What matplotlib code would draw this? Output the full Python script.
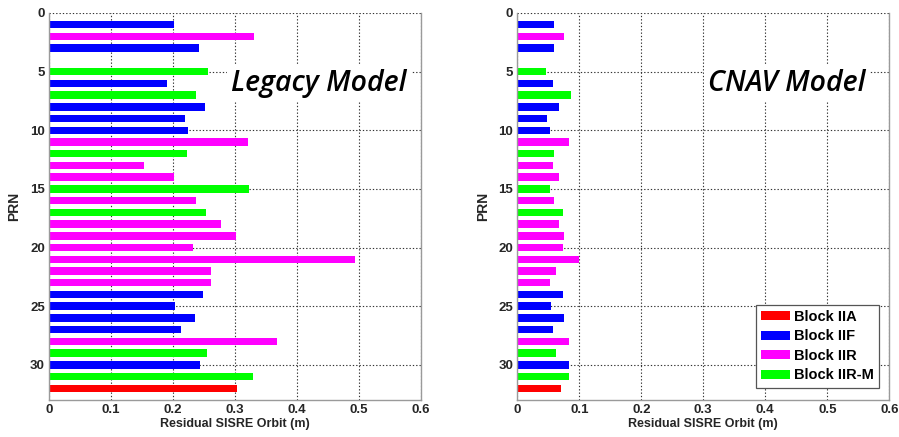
#!/usr/bin/env python3
"""Residual SISRE orbit per PRN: legacy vs CNAV model."""

import matplotlib
matplotlib.use("Agg")
import matplotlib.pyplot as plt
from matplotlib.patches import Patch

# PRN 4 is absent
PRNS = [1, 2, 3, 5, 6, 7, 8, 9, 10, 11, 12, 13, 14, 15, 16, 17,
        18, 19, 20, 21, 22, 23, 24, 25, 26, 27, 28, 29, 30, 31, 32]

BLOCKS = ["IIF", "IIR", "IIF", "IIR-M", "IIF", "IIR-M", "IIF", "IIF", "IIF",
          "IIR", "IIR-M", "IIR", "IIR", "IIR-M", "IIR", "IIR-M",
          "IIR", "IIR", "IIR", "IIR", "IIR", "IIR", "IIF", "IIF", "IIF", "IIF",
          "IIR", "IIR-M", "IIF", "IIR-M", "IIA"]

LEGACY = [0.202, 0.331, 0.242, 0.256, 0.191, 0.237, 0.252, 0.219, 0.225,
          0.321, 0.223, 0.154, 0.202, 0.323, 0.237, 0.254,
          0.277, 0.301, 0.232, 0.493, 0.262, 0.262, 0.249, 0.203, 0.235, 0.213,
          0.368, 0.255, 0.243, 0.329, 0.303]

CNAV = [0.060, 0.075, 0.059, 0.047, 0.057, 0.086, 0.067, 0.048, 0.053,
        0.084, 0.059, 0.058, 0.068, 0.053, 0.060, 0.074,
        0.067, 0.075, 0.074, 0.100, 0.062, 0.053, 0.073, 0.054, 0.075, 0.058,
        0.084, 0.062, 0.084, 0.083, 0.070]

BLOCK_NAMES = ["IIA", "IIF", "IIR", "IIR-M"]
BLOCK_COLORS = {"IIA": "#ff0000", "IIF": "#0000ff", "IIR": "#ff00ff", "IIR-M": "#00ff00"}

TEXT_COLOR = "#262626"
FRAME_COLOR = "#9a9a9a"


def draw_panel(ax, values, title):
    colors = [BLOCK_COLORS[b] for b in BLOCKS]
    ax.barh(PRNS, values, height=0.64, color=colors, edgecolor="none", zorder=2)
    ax.set_xlim(0, 0.6)
    ax.set_ylim(33, 0)
    ax.set_xticks([0, 0.1, 0.2, 0.3, 0.4, 0.5, 0.6])
    ax.set_xticklabels(["0", "0.1", "0.2", "0.3", "0.4", "0.5", "0.6"])
    ax.set_yticks([0, 5, 10, 15, 20, 25, 30])
    ax.tick_params(length=0, pad=3, labelsize=9.5, labelcolor=TEXT_COLOR)
    for lbl in ax.get_xticklabels() + ax.get_yticklabels():
        lbl.set_fontweight("bold")
    ax.grid(True, linestyle=(0, (1.2, 1.8)), color="#333333", linewidth=0.8, zorder=1)
    ax.set_axisbelow(True)
    for side in ("left", "right", "bottom"):
        ax.spines[side].set_color(FRAME_COLOR)
        ax.spines[side].set_linewidth(1.0)
    ax.spines["top"].set_visible(False)
    ax.set_xlabel("Residual SISRE Orbit (m)", fontsize=9, fontweight="bold",
                  color=TEXT_COLOR, labelpad=1)
    ax.set_ylabel("PRN", fontsize=10, fontweight="bold", color=TEXT_COLOR, labelpad=6)
    ax.text(0.435, 6.0, title, fontsize=20.5, style="italic", fontweight="semibold",
            family="Open Sans", color="black", ha="center", va="center", zorder=3,
            bbox=dict(facecolor="white", edgecolor="none", pad=3))


def main() -> int:
    plt.rcParams["font.family"] = ["Liberation Sans", "DejaVu Sans"]
    fig = plt.figure(figsize=(8.99, 4.37), dpi=100)
    ax_l = fig.add_axes([0.0545, 0.0847, 0.4138, 0.8856])
    ax_r = fig.add_axes([0.5754, 0.0847, 0.4138, 0.8856])

    draw_panel(ax_l, LEGACY, "Legacy Model")
    draw_panel(ax_r, CNAV, "CNAV Model")

    handles = [Patch(facecolor=BLOCK_COLORS[b], edgecolor="none", label=f"Block {b}")
               for b in BLOCK_NAMES]
    leg = ax_r.legend(handles=handles, loc="lower right", bbox_to_anchor=(0.973, 0.032),
                      prop={"weight": "bold", "size": 10.5}, fancybox=False,
                      framealpha=1, edgecolor="#555555", handlelength=1.95,
                      handleheight=0.55, handletextpad=0.3, labelspacing=0.38,
                      borderpad=0.35, borderaxespad=0)
    leg.get_frame().set_linewidth(0.9)
    leg.set_zorder(4)

    fig.savefig("out.png", dpi=100)
    return 0


if __name__ == "__main__":
    raise SystemExit(main())
